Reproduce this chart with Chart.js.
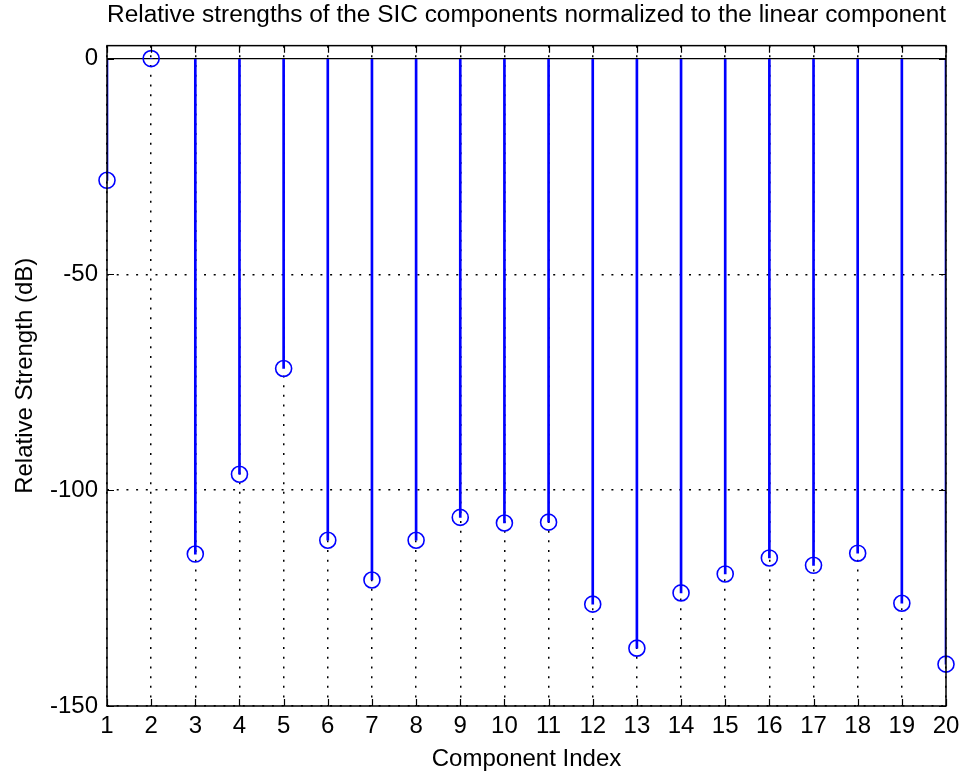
<!DOCTYPE html>
<html>
<head>
<meta charset="utf-8">
<script src="https://cdn.jsdelivr.net/npm/chart.js@4"></script>
<style>
  html, body { margin: 0; padding: 0; background: #fff; }
  #wrap { width: 962px; height: 778px; }
</style>
</head>
<body>
<div id="wrap"><canvas id="stem_canva"></canvas></div>
<script>
// ----- data -----
const componentIndex = [1, 2, 3, 4, 5, 6, 7, 8, 9, 10, 11, 12, 13, 14, 15, 16, 17, 18, 19, 20];
const relStrength = [-28.2, 0, -114.8, -96.3, -71.8, -111.6, -120.8, -111.6, -106.3, -107.6,
                     -107.4, -126.4, -136.6, -123.8, -119.4, -115.7, -117.4, -114.6, -126.2, -140.3];
const yTicks = [-150, -100, -50, 0];
const xTicks = componentIndex;

const FONT = "'Liberation Sans', Arial, sans-serif";
const BLUE = 'rgb(0, 0, 255)';

// box round the axes + inward ticks, matlab style
const axesBox = {
    id: 'axesBox',
    afterDatasetsDraw(chart) {
        const ctx = chart.ctx;
        const a = chart.chartArea;
        const x = chart.scales.x, y = chart.scales.y;
        const tl = 7;
        ctx.save();
        ctx.strokeStyle = '#000';
        ctx.lineWidth = 1.2;
        ctx.beginPath();
        xTicks.forEach(v => {
            const px = Math.round(x.getPixelForValue(v)) + 0.5;
            ctx.moveTo(px, a.bottom); ctx.lineTo(px, a.bottom - tl);
            ctx.moveTo(px, a.top); ctx.lineTo(px, a.top + tl);
        });
        yTicks.forEach(v => {
            const py = Math.round(y.getPixelForValue(v)) + 0.5;
            ctx.moveTo(a.left, py); ctx.lineTo(a.left + tl, py);
            ctx.moveTo(a.right, py); ctx.lineTo(a.right - tl, py);
        });
        ctx.stroke();
        ctx.lineWidth = 1.5;
        ctx.strokeRect(a.left, a.top, a.right - a.left, a.bottom - a.top);
        ctx.restore();
    }
};

const data_stem = {
    datasets: [
        {
            type: 'scatter',
            label: 'markers',
            data: componentIndex.map((c, i) => ({ x: c, y: relStrength[i] })),
            borderColor: BLUE,
            backgroundColor: 'rgba(0,0,0,0)',
            borderWidth: 1.6,
            pointRadius: 8,
            pointHoverRadius: 8,
            clip: false,
            order: 0
        },
        {
            type: 'bar',
            label: 'stems',
            data: componentIndex.map((c, i) => ({ x: c, y: [0, relStrength[i]] })),
            backgroundColor: BLUE,
            borderWidth: 0,
            barThickness: 2,
            order: 1
        }
    ]
};

const config_stem = {
    type: 'scatter',
    data: data_stem,
    plugins: [axesBox],
    options: {
        responsive: true,
        maintainAspectRatio: false,
        animation: false,
        layout: { padding: { left: 0, right: 16, top: 0, bottom: 0 } },
        plugins: {
            legend: { display: false },
            tooltip: { enabled: false },
            title: {
                display: true,
                text: 'Relative strengths of the SIC components normalized to the linear component',
                color: '#000',
                fullSize: false,
                font: { family: FONT, size: 24.7, weight: 'normal' },
                padding: { top: 0, bottom: 16 }
            }
        },
        scales: {
            x: {
                type: 'linear',
                min: 1,
                max: 20,
                offset: false,
                afterBuildTicks: s => { s.ticks = xTicks.map(v => ({ value: v })); },
                afterFit: s => { s.height = 72; s.paddingLeft = 0; s.paddingRight = 0; },
                ticks: {
                    color: '#000',
                    font: { family: FONT, size: 24 },
                    padding: 6,
                    maxRotation: 0,
                    autoSkip: false
                },
                grid: { color: '#000', lineWidth: 1.5, drawTicks: false, offset: false },
                border: { display: false, dash: [2, 7.7] },
                title: {
                    display: true,
                    text: 'Component Index',
                    color: '#000',
                    font: { family: FONT, size: 24 },
                    padding: { top: 0, bottom: 4 }
                }
            },
            y: {
                type: 'linear',
                min: -150,
                max: 3,
                afterBuildTicks: s => { s.ticks = yTicks.map(v => ({ value: v })); },
                afterFit: s => { s.width = 107; },
                ticks: {
                    color: '#000',
                    font: { family: FONT, size: 24 },
                    padding: 9
                },
                grid: { color: '#000', lineWidth: ctx => (ctx.tick && ctx.tick.value === 0) ? 1.3 : 1.5, drawTicks: false },
                border: { display: false, dash: ctx => (ctx.tick && ctx.tick.value === 0) ? [] : [2, 7.7] },
                title: {
                    display: true,
                    text: 'Relative Strength (dB)',
                    color: '#000',
                    font: { family: FONT, size: 24 },
                    padding: { top: 11, bottom: 0 }
                }
            }
        }
    }
};

var stem = new Chart(document.getElementById('stem_canva'), config_stem);
</script>
</body>
</html>
